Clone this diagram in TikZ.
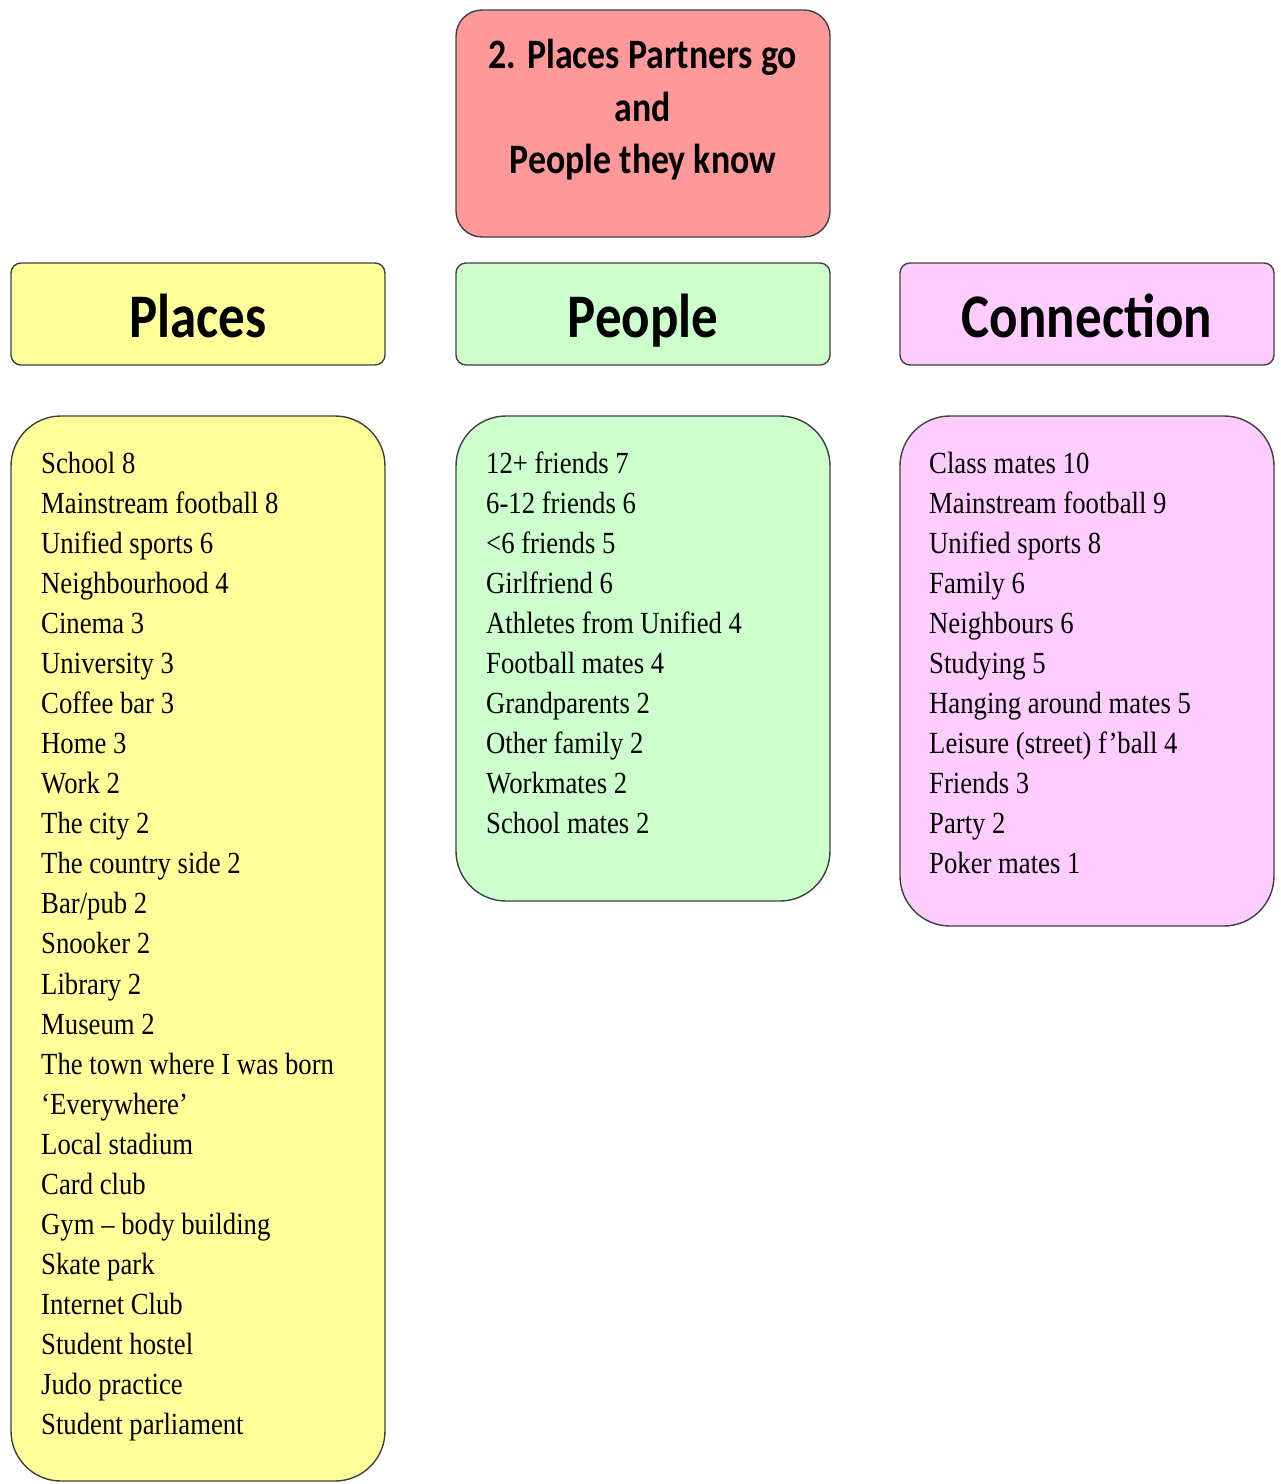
\documentclass[tikz,border=0pt]{standalone}
\usepackage{graphicx}
\usepackage{fontspec}
\setmainfont{Liberation Serif}
\newfontfamily\hdrfont{Carlito}
\definecolor{titlefill}{HTML}{FF9999}
\definecolor{placefill}{HTML}{FFFF99}
\definecolor{peoplefill}{HTML}{CCFFCC}
\definecolor{connfill}{HTML}{FFCCFF}
\definecolor{edge}{HTML}{404040}
\begin{document}
\begin{tikzpicture}[x=1pt,y=-1pt,
  box/.style={draw=edge, line width=1.4pt},
  item/.style={anchor=base west, inner sep=0pt, font=\fontsize{26.7}{30}\selectfont},
  hdr/.style={anchor=base, inner sep=0pt, font=\hdrfont\bfseries\fontsize{53}{60}\selectfont},
  ttl/.style={anchor=base, inner sep=0pt, font=\hdrfont\bfseries\fontsize{35.8}{40}\selectfont},
]
\useasboundingbox (0,0) rectangle (1281,1484);

% boxes
\draw[box, fill=titlefill, rounded corners=26pt] (456,10) rectangle (830,237);
\draw[box, fill=placefill, rounded corners=10pt] (11,263) rectangle (385,365);
\draw[box, fill=peoplefill, rounded corners=10pt] (456,263) rectangle (830,365);
\draw[box, fill=connfill, rounded corners=10pt] (900,263) rectangle (1274,365);
\draw[box, fill=placefill, rounded corners=50pt] (11,416) rectangle (385,1481);
\draw[box, fill=peoplefill, rounded corners=50pt] (456,416) rectangle (830,901);
\draw[box, fill=connfill, rounded corners=50pt] (900,416) rectangle (1274,926);

% title
\node[ttl] (t1) at (643,68) {\scalebox{1}[1.17]{2. Places Partners go}};
\node[ttl] (t2) at (643,121) {\scalebox{1}[1.17]{and}};
\node[ttl] (t3) at (643,173) {\scalebox{1}[1.17]{People they know}};

% headers
\node[hdr] (hplaces) at (198,337) {\scalebox{1}[1.17]{Places}};
\node[hdr] (hpeople) at (643,337) {\scalebox{1}[1.17]{People}};
\node[hdr] (hconn) at (1087,337) {\scalebox{1}[1.17]{Connection}};

% lists
\foreach \t [count=\i from 0] in {School 8, Mainstream football 8, Unified sports 6, Neighbourhood 4, Cinema 3, University 3, Coffee bar 3, Home 3, Work 2, The city 2, The country side 2, Bar/pub 2, Snooker 2, Library 2, Museum 2, The town where I was born, ‘Everywhere’, Local stadium, Card club, Gym – body building, Skate park, Internet Club, Student hostel, Judo practice, Student parliament}
  \node[item] (pl\i) at (41,473+40.08*\i) {\scalebox{1}[1.15]{\t}};

\foreach \t [count=\i from 0] in {12+ friends 7, 6-12 friends 6, <6 friends 5, Girlfriend 6, Athletes from Unified 4, Football mates 4, Grandparents 2, Other family 2, Workmates 2, School mates 2}
  \node[item] (pe\i) at (486,473+40.08*\i) {\scalebox{1}[1.15]{\t}};

\foreach \t [count=\i from 0] in {Class mates 10, Mainstream football 9, Unified sports 8, Family 6, Neighbours 6, Studying 5, Hanging around mates 5, Leisure (street) f’ball 4, Friends 3, Party 2, Poker mates 1}
  \node[item] (co\i) at (929,473+40.08*\i) {\scalebox{1}[1.15]{\t}};
\end{tikzpicture}
\end{document}
